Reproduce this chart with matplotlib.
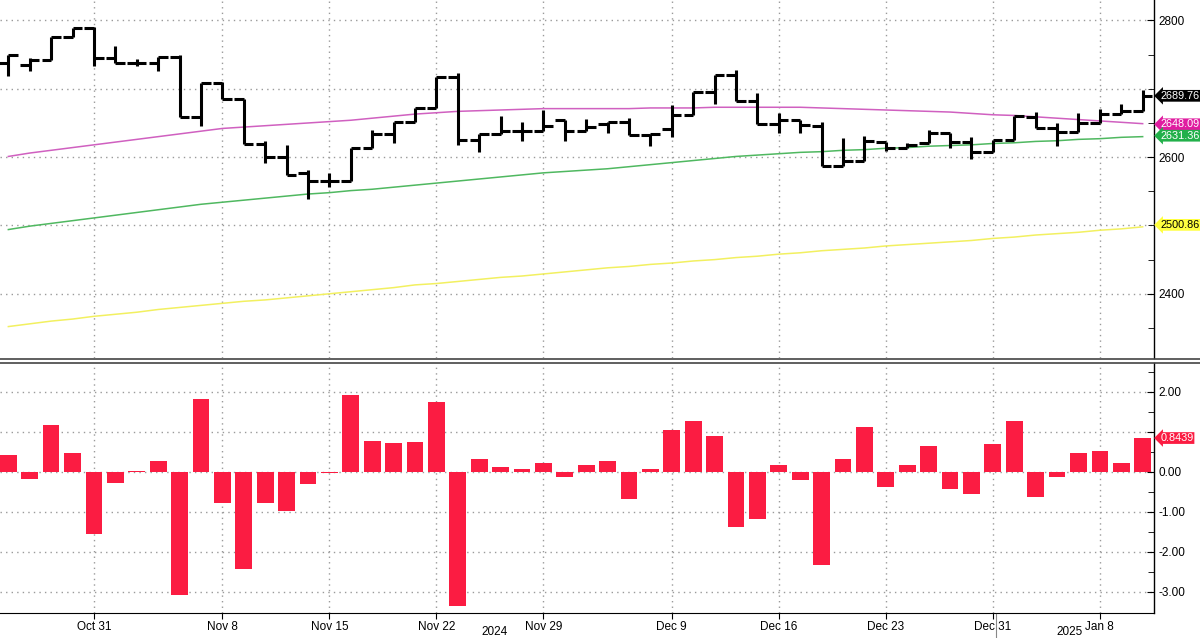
import matplotlib
matplotlib.use("Agg")
import matplotlib.pyplot as plt
import numpy as np
import pandas as pd
from matplotlib.lines import Line2D

dates = [d for d in pd.bdate_range("2024-10-25", "2025-01-10")
         if d.strftime("%m-%d") not in ("12-25", "01-01")]

opens = [2737.6,2735,2742,2775.6,2788.8,2745,2737.6,2737.6,2745.9,2658.5,
         2708.3,2685.4,2619.5,2600,2576.6,2564.4,2564.4,2613,2633.7,2651.2,
         2671.7,2717,2625.4,2633.7,2637.6,2638.5,2653.7,2638.5,2648,2651,
         2632.7,2641,2662,2696,2719.5,2681.5,2648.3,2653.7,2645.9,2586.3,
         2593.7,2621.5,2614.1,2620.5,2635,2621.5,2606.8,2625.4,2658.5,2642.4,
         2636.6,2649.8,2662.9,2667.8]
closes = [2749.8,2742.4,2775.6,2788.8,2745,2737.6,2737.6,2745.9,2658.5,2708.3,
          2685.4,2619.5,2600,2573.2,2564.4,2564.4,2613,2633.7,2651.2,2671.7,
          2717,2625.4,2633.7,2637.6,2638.5,2645,2638.5,2644,2651,2632.7,
          2633.7,2662,2696,2719.5,2681.5,2648.3,2653.7,2647.3,2586.3,2593.7,
          2623,2614.1,2618,2635,2621.5,2606.8,2625.4,2659.5,2642.4,2636.6,
          2649.8,2662.9,2667.8,2689.76]
highs = [2749.8,2745,2775.6,2788.8,2791,2762,2743.4,2745.9,2749.8,2708.3,
         2710.7,2685.4,2623,2618,2581.5,2576.6,2613,2640,2651.2,2671.7,
         2717,2723,2633.7,2659.5,2650.7,2669,2653.7,2656,2651,2657,
         2633.7,2676.6,2696,2719.5,2727,2693.7,2664.4,2653.7,2652,2627.8,
         2631.2,2621.5,2620.5,2640,2635,2628.8,2625.4,2659.5,2666,2650,
         2664.4,2670.7,2678,2698.5]
lows = [2719,2726,2742,2775.6,2733.7,2737.6,2733.7,2726,2658.5,2644.9,
        2685.4,2619.5,2591.2,2573.2,2539,2557,2564.4,2633.7,2620.5,2651.2,
        2671.7,2618,2607,2633.7,2623,2638.5,2624,2638.5,2635,2632.7,
        2615.6,2630,2662,2678,2681.5,2648.3,2635,2635,2586.3,2586.3,
        2593.7,2609,2614.1,2620.5,2613,2597,2606.8,2625.4,2642.4,2616.6,
        2636.6,2649.8,2662.9,2667.8]

ma_magenta = [2601,2606,2610,2614,2618,2622,2626,2630,2634,2638,2642,2644,2646,2648,
              2650,2652,2654,2657,2660,2663,2665,2667,2668,2669,2670,2671,2671,2671,
              2671,2671,2672,2672,2672,2673,2673,2673,2673,2673,2672,2671,2670,2669,
              2668,2667,2666,2664,2662,2661,2659,2657,2655,2653,2651,2649]
ma_green = [2494,2499,2503,2507,2511,2515,2519,2523,2527,2531,2534,2537,2540,2543,
            2546,2548,2551,2553,2556,2559,2562,2565,2568,2571,2574,2577,2579,2581,
            2583,2586,2589,2592,2595,2598,2601,2603,2605,2607,2608,2610,2611,2613,
            2614,2616,2617,2618,2620,2621,2623,2624,2626,2627,2629,2630]
ma_yellow = [2352,2356,2360,2363,2367,2370,2373,2377,2380,2383,2386,2389,2391,2394,
             2397,2400,2403,2406,2409,2413,2415,2418,2421,2424,2426,2429,2432,2435,
             2438,2440,2443,2445,2448,2450,2453,2455,2458,2460,2463,2465,2467,2470,
             2472,2474,2476,2478,2481,2483,2486,2488,2490,2493,2495,2498]

pct_change = [0.43,-0.17,1.18,0.47,-1.56,-0.27,0.01,0.28,-3.08,1.81,
              -0.79,-2.44,-0.77,-0.97,-0.31,-0.04,1.91,0.78,0.72,0.74,
              1.75,-3.35,0.32,0.12,0.08,0.21,-0.14,0.17,0.26,-0.67,
              0.08,1.04,1.28,0.89,-1.38,-1.19,0.17,-0.21,-2.32,0.33,
              1.12,-0.38,0.17,0.65,-0.44,-0.55,0.69,1.28,-0.64,-0.12,
              0.47,0.52,0.21,0.8439]

label_dates = ["2024-10-31","2024-11-08","2024-11-15","2024-11-22","2024-11-29",
               "2024-12-09","2024-12-16","2024-12-23","2024-12-31","2025-01-08"]
label_text = ["Oct 31","Nov 8","Nov 15","Nov 22","Nov 29","Dec 9","Dec 16",
              "Dec 23","Dec 31","Jan 8"]

plt.rcParams['font.family'] = ['Liberation Sans', 'DejaVu Sans']
x = np.arange(len(dates))
dstr = [d.strftime("%Y-%m-%d") for d in dates]
lab_idx = [dstr.index(d) for d in label_dates]

fig = plt.figure(figsize=(12, 6.38), dpi=100)
W, H = 1200, 638
ax1 = fig.add_axes([0, (H-358)/H, 1154/W, 358/H])
ax2 = fig.add_axes([0, (H-613)/H, 1154/W, 250/H])
xlim = (-0.39, 53.53)

grid_kw = dict(color="#9a9a9a", linestyle=(0, (1, 3)), linewidth=1.0)
for ax in (ax1, ax2):
    ax.set_xlim(*xlim)
    ax.set_facecolor("white")
    for s in ("top", "left", "bottom"):
        ax.spines[s].set_visible(False)
    ax.spines["right"].set_color("black")
    ax.spines["right"].set_linewidth(1.0)
    ax.yaxis.tick_right()
    ax.set_xticks(lab_idx)
    for i in lab_idx:
        ax.axvline(i, zorder=0, **grid_kw)
    ax.tick_params(axis="y", direction="in", length=5, labelsize=8.5, pad=3, color="black")

# top panel
ax1.set_ylim(2306, 2830)
for v in (2400, 2500, 2600, 2700, 2800):
    ax1.axhline(v, zorder=0, **grid_kw)
ax1.set_yticks([2400, 2600, 2800])
ax1.set_yticks([2350, 2450, 2500, 2550, 2650, 2700, 2750], minor=True)
ax1.tick_params(axis="y", which="minor", direction="in", length=4, right=True, left=False)
ax1.tick_params(axis="x", bottom=False, labelbottom=False)

ax1.plot(x, ma_yellow, color="#f2f060", lw=1.1, zorder=2)
ax1.plot(x, ma_green, color="#4fb860", lw=1.1, zorder=2)
ax1.plot(x, ma_magenta, color="#d060c0", lw=1.1, zorder=2)

hi = np.maximum(np.maximum(highs, opens), closes)
lo = np.minimum(np.minimum(lows, opens), closes)
tw = 0.45
ax1.vlines(x, lo, hi, color="black", lw=2.2, zorder=3)
ax1.hlines(opens, x - tw, x, color="black", lw=2.2, zorder=3)
ax1.hlines(closes, x, x + tw, color="black", lw=2.2, zorder=3)

def tag(ax, y, txt, fc, tc):
    ax.annotate(txt, xy=(1.0, y), xycoords=("axes fraction", "data"),
                xytext=(4.5, 0), textcoords="offset points", va="center", ha="left",
                fontsize=7.8, color=tc, annotation_clip=False,
                bbox=dict(boxstyle="larrow,pad=0.08", fc=fc, ec="none"))

tag(ax1, closes[-1], f"{closes[-1]:.2f}", "#000000", "white")
tag(ax1, 2648.09, "2648.09", "#e01ca0", "white")
tag(ax1, 2631.36, "2631.36", "#22b04a", "white")
tag(ax1, 2500.86, "2500.86", "#ffff40", "black")

# bottom panel
ax2.set_ylim(-3.53, 2.72)
for v in (-3, -2, -1, 0, 1, 2):
    ax2.axhline(v, zorder=0, **grid_kw)
ax2.set_yticks([-3, -2, -1, 0, 1, 2])
ax2.set_yticklabels(["-3.00", "-2.00", "-1.00", "0.00", "", "2.00"])
ax2.set_yticks([-2.5, -1.5, -0.5, 0.5, 1.5, 2.5], minor=True)
ax2.tick_params(axis="y", which="minor", direction="in", length=4)
ax2.bar(x, pct_change, width=0.78, color="#fb1c42", zorder=2)
tag(ax2, pct_change[-1], f"{pct_change[-1]:.4f}", "#fb1c42", "white")
ax2.spines["bottom"].set_visible(True)
ax2.spines["bottom"].set_color("black")
ax2.set_xticklabels(label_text)
ax2.tick_params(axis="x", direction="out", length=4, labelsize=8.5, pad=2)

# separator and year labels
fig.add_artist(Line2D([0, 1], [(H-359)/H]*2, color="#444444", lw=1.2))
fig.add_artist(Line2D([0, 1], [(H-362.5)/H]*2, color="#444444", lw=1.2))
fig.text(495/W, (H-632)/H, "2024", fontsize=8.5, ha="center", va="center")
fig.text(1070/W, (H-632)/H, "2025", fontsize=8.5, ha="center", va="center")
fig.add_artist(Line2D([996/W]*2, [0, (H-614)/H], color="#888888", lw=0.8))

fig.savefig("out.png", dpi=100, facecolor="white")
